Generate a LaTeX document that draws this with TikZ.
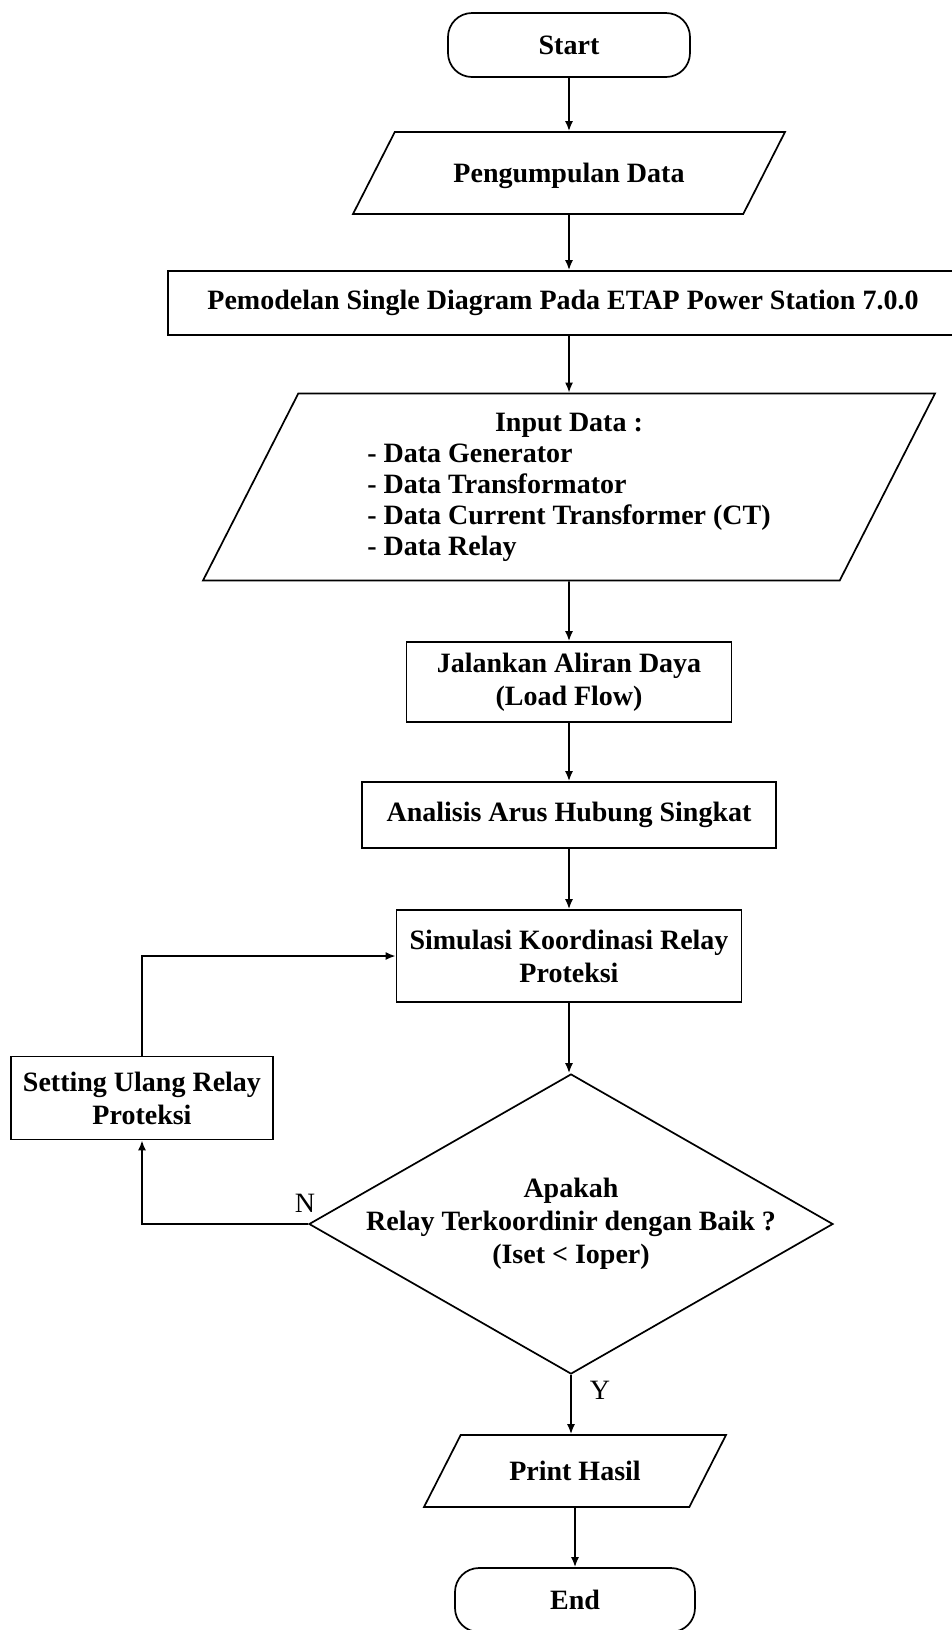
\documentclass[tikz,border=0pt]{standalone}
\usepackage{fontspec}
\setmainfont{Liberation Serif}
\usetikzlibrary{arrows.meta, shapes.geometric}

\begin{document}
\begin{tikzpicture}[%
        x = 0.5pt,
        y = -0.5pt,
        line width = 0.3mm,
        > = {Latex[length = 5pt, width = 4pt]},
        every node/.style = {font = \bfseries\fontsize{14}{16.5}\selectfont},
        terminal/.style = {draw, rectangle, rounded corners = 12pt,
            minimum width = 121pt, minimum height = 32pt},
        process/.style = {draw, rectangle, align = center, inner sep = 2pt},
        io/.style = {draw, trapezium, trapezium left angle = 63,
            trapezium right angle = 117, trapezium stretches body,
            align = center, inner xsep = 2pt, inner ysep = 0pt},
        decision/.style = {draw, diamond, inner sep = 0pt},
        answer/.style = {font = \fontsize{14}{16.5}\selectfont},
    ]

        % Size of the page.
        \useasboundingbox (0, 0) rectangle (952, 1630);

        % Main column of steps.
        \node (start) at (569, 45) [terminal] {Start};
        \node (data) at (569, 173) [io, minimum width = 216pt,
            text height = 25.2pt, text depth = 15.8pt] {Pengumpulan Data};
        \node (model) at (563, 303) [process, minimum width = 395pt,
            minimum height = 32pt]
            {Pemodelan Single Diagram Pada ETAP Power Station 7.0.0};
        \node (input) at (569, 487) [io, minimum width = 366pt,
            inner ysep = 8pt,
            font = \bfseries\fontsize{14}{15.5}\selectfont]
            {\begin{tabular}{@{}l@{}}
                \multicolumn{1}{c}{Input Data :}\\
                - Data Generator\\
                - Data Transformator\\
                - Data Current Transformer (CT)\\
                - Data Relay
            \end{tabular}};
        \node (flow) at (569, 682) [process, minimum width = 162.5pt,
            minimum height = 40pt] {Jalankan Aliran Daya\\(Load Flow)};
        \node (fault) at (569, 815) [process, minimum width = 207pt,
            minimum height = 33pt] {Analisis Arus Hubung Singkat};
        \node (sim) at (569, 956) [process, minimum width = 172.5pt,
            minimum height = 46pt] {Simulasi Koordinasi Relay\\Proteksi};

        % The check and its text.
        \node (check) at (571, 1224) [decision, minimum width = 262pt,
            minimum height = 150pt] {};
        \node (checktext) at (check) [align = center]
            {Apakah\\Relay Terkoordinir dengan Baik ?\\(Iset < Ioper)};

        % Side step for a new setting.
        \node (reset) at (142, 1098) [process, minimum width = 131pt,
            minimum height = 41.5pt] {Setting Ulang Relay\\Proteksi};

        % Last steps.
        \node (print) at (575, 1471) [io, minimum width = 151pt,
            text height = 22.7pt, text depth = 13.3pt] {Print Hasil};
        \node (stop) at (575, 1600) [terminal, minimum width = 120pt] {End};

        % Arrows down the column.
        \draw[->] (start) to (data);
        \draw[->] (data) to (data |- model.north);
        \draw[->] (model.south -| input) to (input);
        \draw[->] (input) to (flow);
        \draw[->] (flow) to (fault);
        \draw[->] (fault) to (sim);
        \draw[->] (sim.south) to (sim.south |- check.north);
        \draw[->] (check.south) to (check.south |- print.north);
        \draw[->] (print) to (stop);

        % Loop back when the relays are not coordinated.
        \draw[->] (check.west) -| (reset);
        \draw[->] (reset) |- (sim);

        % Label the answers.
        \node (no) at (305, 1203) [answer] {N};
        \node (yes) at (600, 1390) [answer] {Y};
    \end{tikzpicture}
\end{document}
